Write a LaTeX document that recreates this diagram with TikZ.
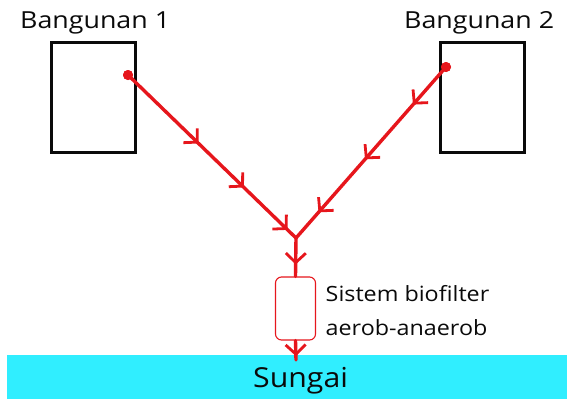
\documentclass[tikz,border=0pt]{standalone}
\usepackage{fontspec}
\setmainfont{Open Sans}
\usetikzlibrary{arrows.meta,decorations.markings}

\definecolor{pipered}{RGB}{230,22,28}
\definecolor{rivercyan}{RGB}{48,238,255}
\definecolor{inkblack}{RGB}{10,10,10}

% horizontally widened text
\newcommand{\widetext}[2]{\scalebox{#1}[1]{#2}}

\tikzset{
  building/.style={draw=inkblack, line width=3.8pt, minimum width=84pt, minimum height=110pt, inner sep=0pt},
  outlet/.style={circle, fill=pipered, minimum size=10pt, inner sep=0pt},
  pipe/.style={draw=pipered, line width=3.4pt, line cap=round},
  barb/.tip={Straight Barb[length=9.5pt, width=20pt, line width=2.8pt]},
  filterbox/.style={draw=pipered, line width=1.1pt, rounded corners=6pt, minimum width=40pt, minimum height=63pt, inner sep=0pt, fill=white},
  river/.style={fill=rivercyan, minimum width=560pt, minimum height=44pt, inner sep=0pt},
  label/.style={text=inkblack, anchor=base west, inner sep=0pt},
  flowmarks/.style={postaction={decorate, decoration={markings, #1}}}
}

\begin{document}
\begin{tikzpicture}[x=1pt, y=-1pt]
\useasboundingbox (0,0) rectangle (567,399);

% river along the bottom
\node[river] (river) at (287,376.5) {};
\node[label, font=\fontsize{27.5}{30}\selectfont] (sungai) at (253,387) {\widetext{1.1}{Sungai}};

% buildings
\node[building] (b1) at (93.5,97.5) {};
\node[building] (b2) at (482.5,97.5) {};
\node[label, font=\fontsize{23.5}{26}\selectfont] (t1) at (20,28.5) {\widetext{1.14}{Bangunan 1}};
\node[label, font=\fontsize{23.5}{26}\selectfont] (t2) at (404,28.5) {\widetext{1.14}{Bangunan 2}};

% outlets, junction and discharge point
\node[outlet] (o1) at (128,75) {};
\node[outlet] (o2) at (446,67) {};
\coordinate (j) at (296,238);
\coordinate (out) at (296,360);

% biofilter unit
\node[filterbox] (f) at (295.5,308.5) {};
\node[label, font=\fontsize{21}{24}\selectfont] (s1) at (325.5,301.5) {\widetext{1.11}{Sistem biofilter}};
\node[label, font=\fontsize{21}{24}\selectfont] (s2) at (325.5,335) {\widetext{1.11}{aerob-anaerob}};

% drainage pipes
\draw[pipe, flowmarks={mark=at position 0.42 with {\arrow{barb}}, mark=at position 0.69 with {\arrow{barb}}, mark=at position 0.95 with {\arrow{barb}}}] (o1.center) -- (j);
\draw[pipe, flowmarks={mark=at position 0.22 with {\arrow{barb}}, mark=at position 0.54 with {\arrow{barb}}, mark=at position 0.85 with {\arrow{barb}}}] (o2.center) -- (j);
\draw[pipe, flowmarks={mark=at position 0.69 with {\arrow{barb}}}] (j) -- (f.north);
\draw[pipe, flowmarks={mark=at position 0.8 with {\arrow{barb}}}] (f.south) -- (out);

\node[outlet] at (o1) {};
\node[outlet] at (o2) {};
\end{tikzpicture}
\end{document}
